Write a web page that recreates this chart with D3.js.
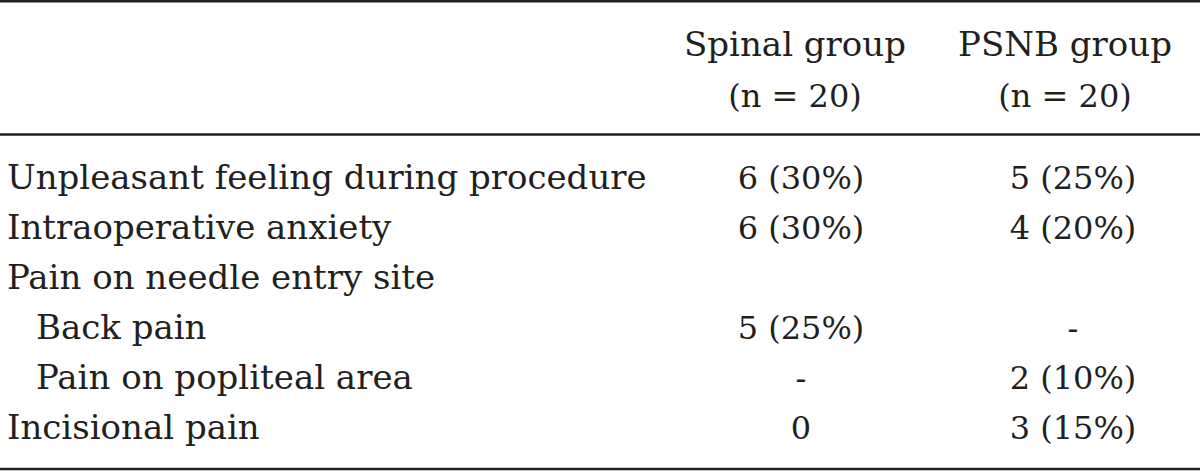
<!DOCTYPE html>
<html>
<head>
<meta charset="utf-8">
<script src="https://cdn.jsdelivr.net/npm/d3@7"></script>
<style>
  html, body { margin: 0; padding: 0; background: #fff; }
  svg { display: block; }
</style>
</head>
<body>
<svg id="chart" width="1200" height="471"></svg>
<script>
const columnHeaders = [["Spinal group", "(n = 20)"], ["PSNB group", "(n = 20)"]];
const rowLabels = [
  "Unpleasant feeling during procedure",
  "Intraoperative anxiety",
  "Pain on needle entry site",
  "Back pain",
  "Pain on popliteal area",
  "Incisional pain"
];
const rowIndent = [0, 0, 0, 1, 1, 0];
const spinalValues = ["6 (30%)", "6 (30%)", "", "5 (25%)", "-", "0"];
const psnbValues = ["5 (25%)", "4 (20%)", "", "-", "2 (10%)", "3 (15%)"];

const W = 1200, H = 471;
const svg = d3.select("#chart");
const ink = "#231f20";
const font = "'DejaVu Serif', serif";
const fs = 34;

const xh = d3.scalePoint().domain([0, 1]).range([795, 1065]);
const xv = d3.scalePoint().domain([0, 1]).range([801, 1073]);
const y = d3.scalePoint().domain(d3.range(rowLabels.length)).range([189, 439]);
const hy = d3.scalePoint().domain([0, 1]).range([56, 107]);

// rules
[1.2, 134.5, 469].forEach(yy => {
  svg.append("line").attr("x1", 0).attr("x2", W).attr("y1", yy).attr("y2", yy)
    .attr("stroke", ink).attr("stroke-width", 2.5);
});

const g = svg.append("g").attr("font-family", font).attr("font-size", fs).attr("fill", ink);

// headers
columnHeaders.forEach((lines, ci) => {
  lines.forEach((t, li) => {
    g.append("text").attr("x", xh(ci)).attr("y", hy(li)).attr("text-anchor", "middle")
      .attr("font-size", li === 1 ? 32 : fs).text(t);
  });
});

// row labels
g.selectAll("text.lab").data(rowLabels).join("text").attr("class", "lab")
  .attr("x", (d, i) => 7 + rowIndent[i] * 29)
  .attr("y", (d, i) => y(i))
  .text(d => d);

[spinalValues, psnbValues].forEach((vals, ci) => {
  g.selectAll("text.v" + ci).data(vals).join("text").attr("class", "v" + ci)
    .attr("x", xv(ci)).attr("y", (d, i) => y(i)).attr("text-anchor", "middle")
    .attr("font-size", 32)
    .text(d => d);
});
</script>
</body>
</html>
